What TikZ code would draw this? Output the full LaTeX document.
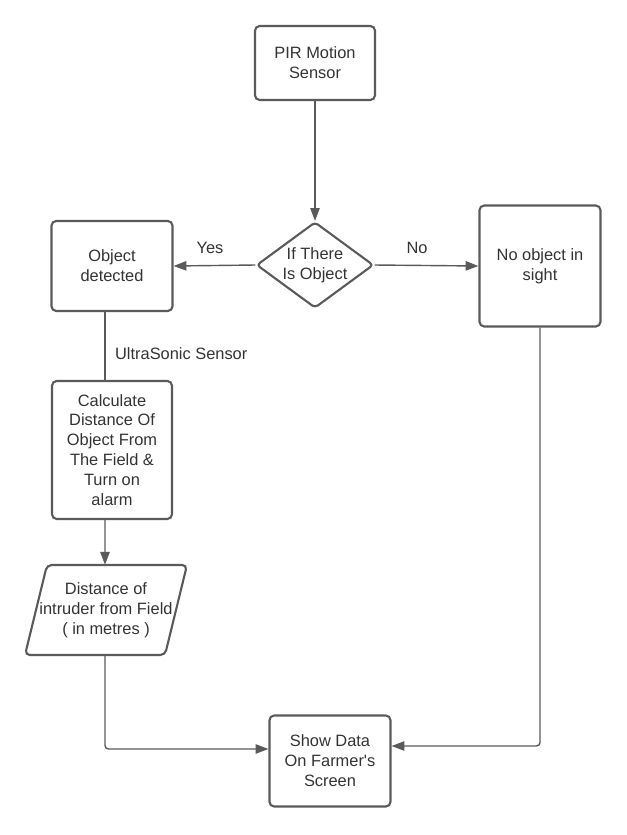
\documentclass[tikz,border=0pt]{standalone}
\usepackage{fontspec}
\setmainfont{Liberation Sans}
\usetikzlibrary{shapes.geometric,arrows.meta}
\definecolor{linegray}{HTML}{5A5A5A}
\definecolor{textgray}{HTML}{333333}

\begin{document}
\begin{tikzpicture}[x=0.03cm, y=-0.03cm,
    box/.style={draw=linegray, line width=1.8pt, rounded corners=4pt, align=center,
      text=textgray, font=\fontsize{14}{17}\selectfont, inner sep=0pt},
    link/.style={draw=linegray, line width=1.2pt, rounded corners=3pt,
      -{Triangle[length=11pt,width=8pt]}},
    lbl/.style={text=textgray, font=\fontsize{14}{17}\selectfont}]
    \useasboundingbox (0,0) rectangle (627,835);

    % boxes
    \node[box, minimum width=3.6cm, minimum height=2.22cm] (pir) at (315,63) {PIR Motion\\Sensor};
    \node[box, diamond, rounded corners=3pt, aspect=1.36, minimum width=3.51cm, minimum height=2.58cm] (check) at (315,265) {If There\\Is Object};
    \node[box, minimum width=3.63cm, minimum height=2.7cm] (found) at (112,266) {Object\\detected};
    \node[box, minimum width=3.63cm, minimum height=3.63cm] (nothing) at (540,266) {No object in\\sight};
    \node[box, minimum width=3.6cm, minimum height=4.14cm] (calc) at (112,450) {Calculate\\Distance Of\\Object From\\The Field \&\\Turn on\\alarm};
    \node[lbl, align=center, inner sep=0pt, minimum height=2.7cm] (dist) at (106,610) {Distance of\\intruder from Field\\( in metres )};
    \draw[linegray, line width=1.8pt, rounded corners=4pt]
      ([shift={(-59,-45)}]dist.center) -- ([shift={(81,-45)}]dist.center)
      -- ([shift={(59,45)}]dist.center) -- ([shift={(-81,45)}]dist.center) -- cycle;
    \node[box, minimum width=3.63cm, minimum height=2.73cm] (show) at (330,761) {Show Data\\On Farmer\textquotesingle s\\Screen};

    % connectors
    \draw[link] (pir.south) -- (check.north);
    \draw[link] (check.west) -- (found.east);
    \draw[link] (check.east) -- (nothing.west);
    \draw[draw=linegray, line width=1.2pt] ([xshift=-0.21cm]found.south) -- ([xshift=-0.21cm]calc.north);
    \draw[link] ([xshift=-0.21cm]calc.south) -- ([xshift=-0.03cm]dist.north);
    \draw[link] ([xshift=-0.03cm]dist.south) |- ([yshift=0.36cm]show.west);
    \draw[link] (nothing.south) |- ([yshift=0.45cm]show.east);

    % labels
    \node[lbl] (yes) at (210,248) {Yes};
    \node[lbl] (no) at (417,248) {No};
    \node[lbl, anchor=west] (sonic) at (111,354) {UltraSonic Sensor};
\end{tikzpicture}
\end{document}
